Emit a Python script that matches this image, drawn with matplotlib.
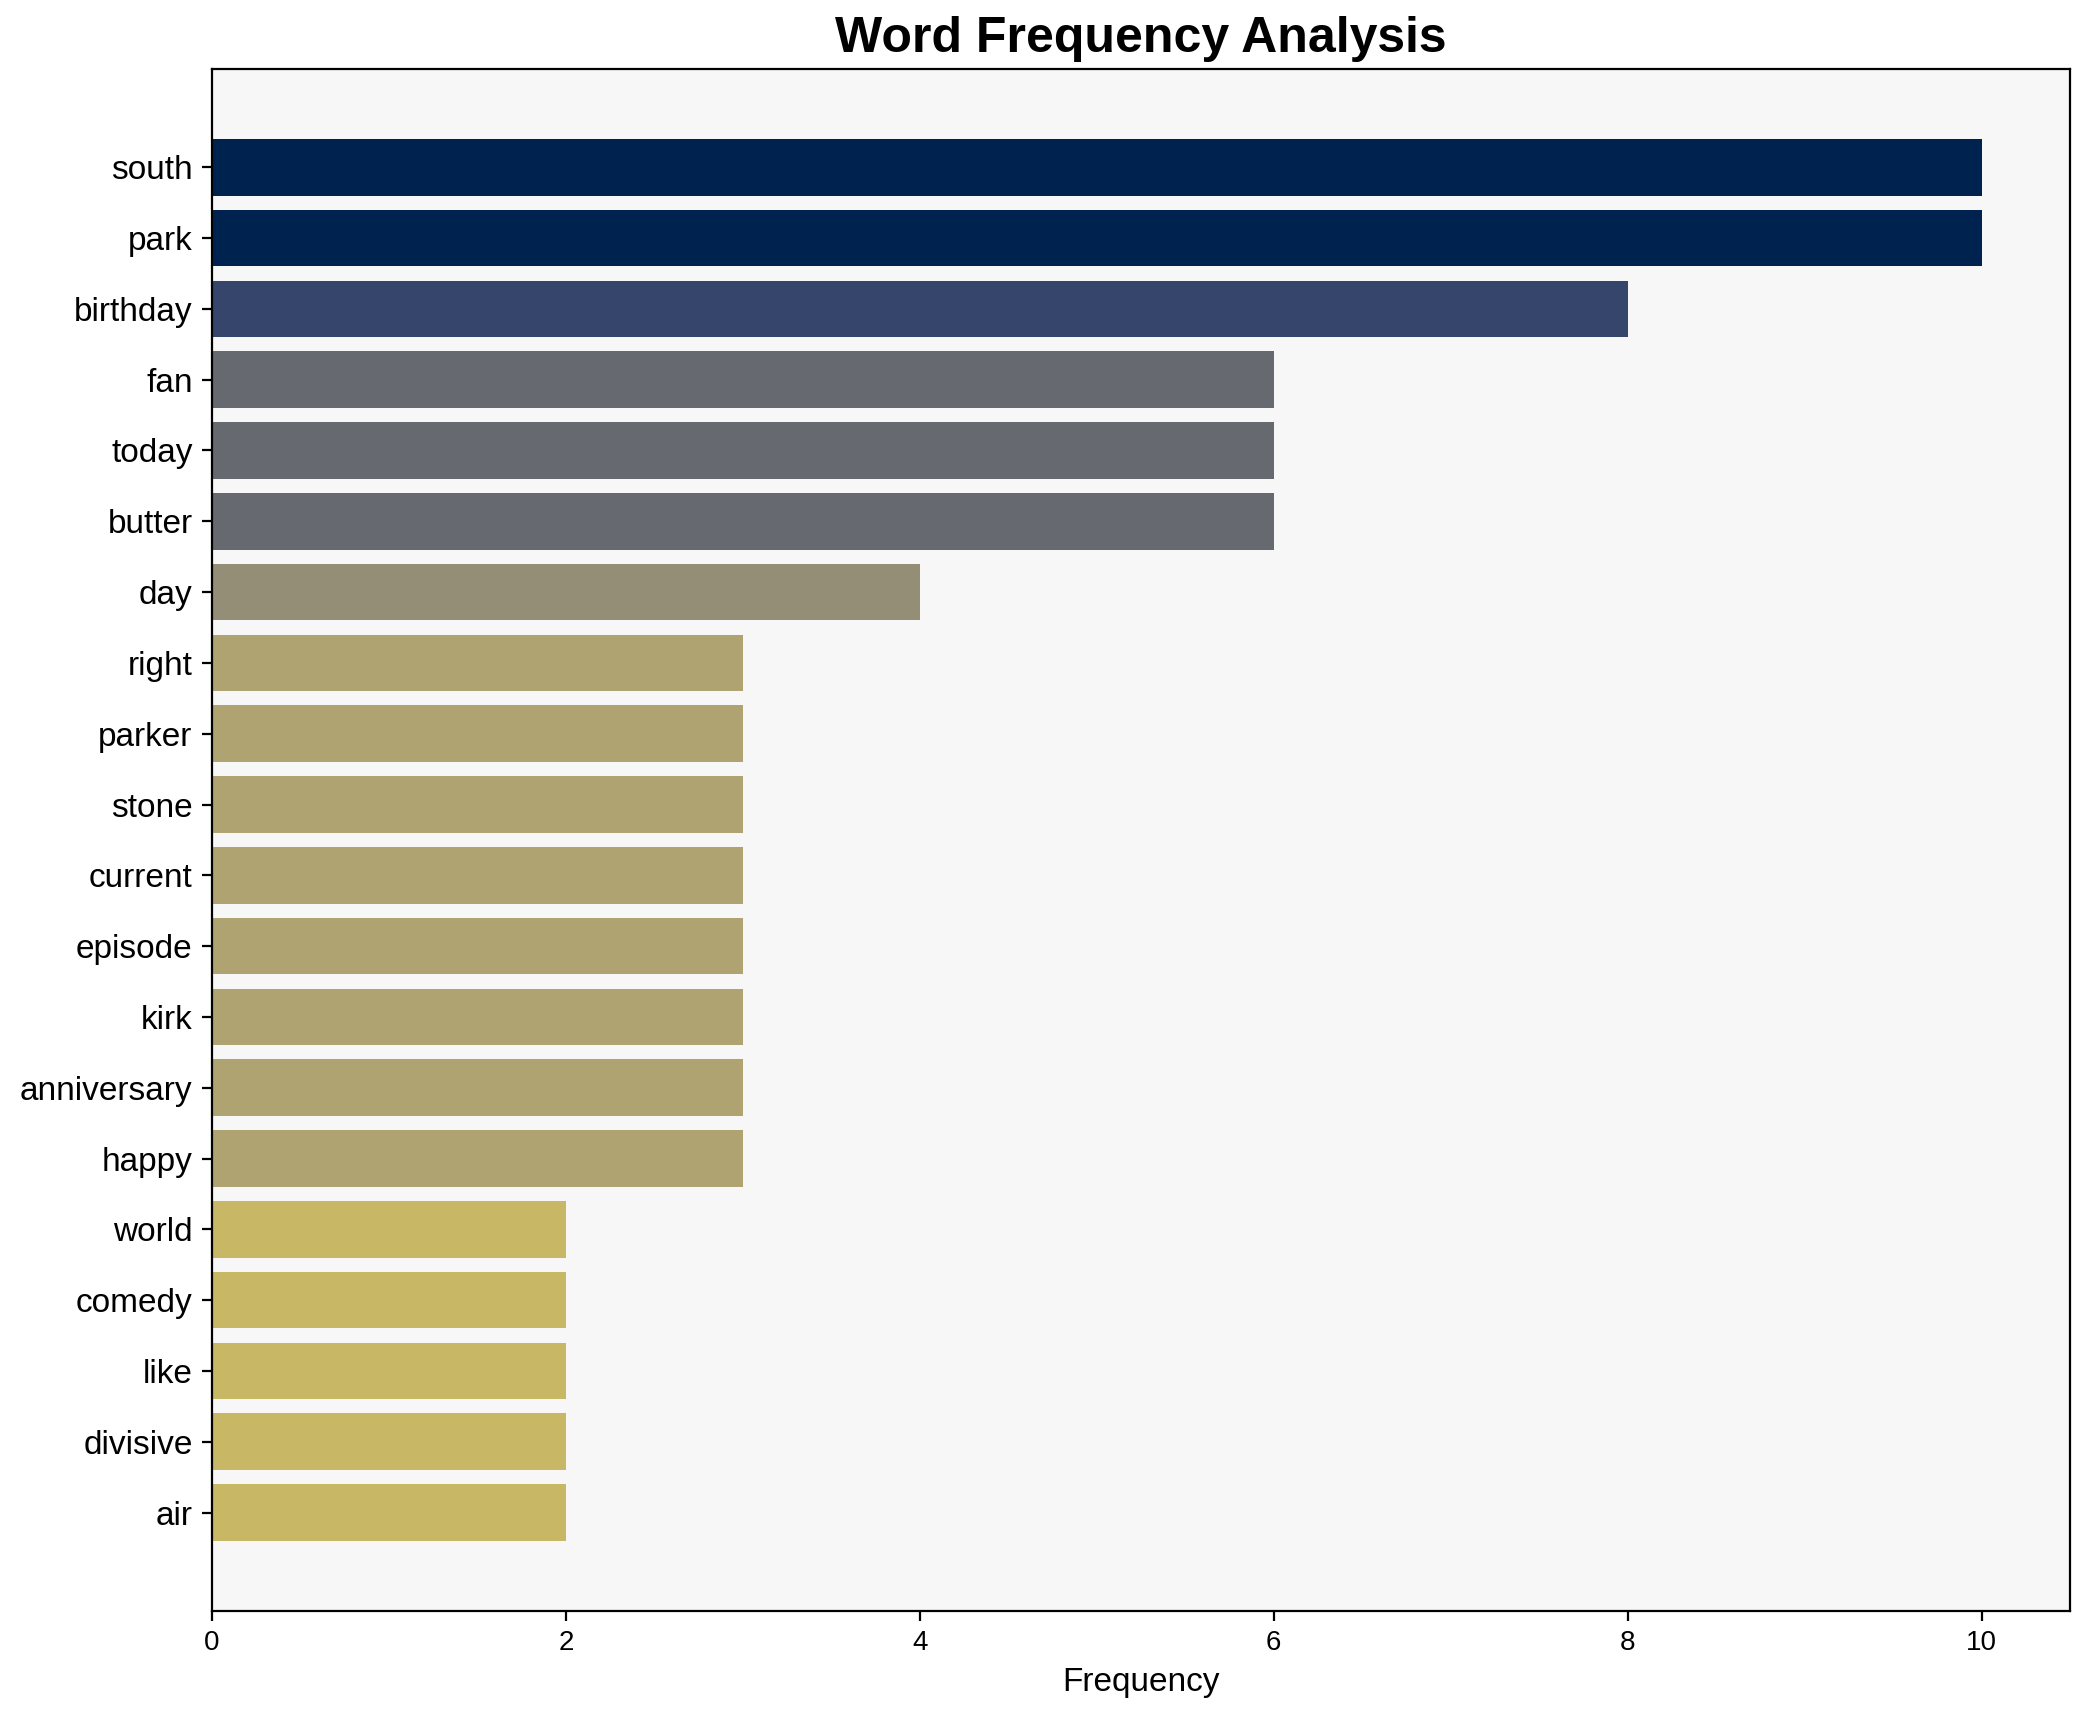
import numpy as np
import matplotlib
matplotlib.use("Agg")
import matplotlib.pyplot as plt

plt.rcParams['font.family'] = ['Liberation Sans', 'DejaVu Sans']

words = ['south', 'park', 'birthday', 'fan', 'today', 'butter', 'day', 'right',
         'parker', 'stone', 'current', 'episode', 'kirk', 'anniversary', 'happy',
         'world', 'comedy', 'like', 'divisive', 'air']
freqs = [10, 10, 8, 6, 6, 6, 4, 3, 3, 3, 3, 3, 3, 3, 3, 2, 2, 2, 2, 2]

fig = plt.figure(figsize=(2091 / 200, 1722 / 200), dpi=200)
ax = fig.add_axes([0.1014, 0.0645, 0.8886, 0.8955])
ax.set_facecolor('#f7f7f7')

# darker colour for more frequent words
colors = plt.cm.cividis(1 - np.array(freqs) / max(freqs))
ypos = np.arange(len(words))
ax.barh(ypos, freqs, color=colors, height=0.8)
ax.set_yticks(ypos)
ax.set_yticklabels(words, fontsize=12)
ax.tick_params(axis='x', labelsize=10)
ax.invert_yaxis()
ax.set_xlabel('Frequency', fontsize=12)
ax.set_title('Word Frequency Analysis', fontsize=18, fontweight='bold')

fig.savefig('out.png', dpi=200)
